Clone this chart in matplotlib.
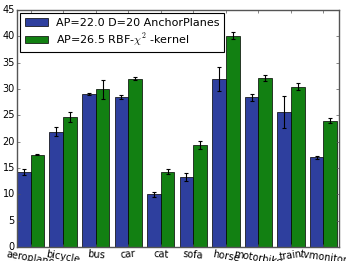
import matplotlib
matplotlib.use("Agg")
import matplotlib.pyplot as plt
import numpy as np

plt.style.use('classic')

categories = ['aeroplane', 'bicycle', 'bus', 'car', 'cat', 'sofa', 'horse',
              'motorbike', 'train', 'tvmonitor']
anchor_vals = [14.2, 21.9, 29.0, 28.5, 10.0, 13.3, 31.9, 28.4, 25.6, 17.0]
anchor_err = [0.6, 0.8, 0.2, 0.4, 0.5, 0.8, 2.3, 0.7, 3.0, 0.3]
rbf_vals = [17.5, 24.7, 29.9, 31.9, 14.3, 19.4, 40.1, 32.1, 30.4, 24.0]
rbf_err = [0.1, 0.9, 1.8, 0.3, 0.5, 0.8, 0.7, 0.6, 0.7, 0.4]
label_rot = [-10, -10, -5, 5, -3, -5, -10, -10, 8, -8]

fig = plt.figure(figsize=(3.46, 2.61), dpi=100)
fig.patch.set_facecolor('white')
ax = fig.add_axes([0.049, 0.054, 0.931, 0.908])

x = np.arange(len(categories))
w = 0.42
ax.bar(x, anchor_vals, w, align='edge', color='#2e3f9e', edgecolor='black',
       linewidth=0.5, label='AP=22.0 D=20 AnchorPlanes')
ax.bar(x + w, rbf_vals, w, align='edge', color='#128012', edgecolor='black',
       linewidth=0.5, label=r'AP=26.5 RBF-$\chi^2$ -kernel')
ax.errorbar(x + w / 2, anchor_vals, yerr=anchor_err, fmt='none', ecolor='black',
            elinewidth=0.8, capsize=1.5, capthick=0.8)
ax.errorbar(x + 1.5 * w, rbf_vals, yerr=rbf_err, fmt='none', ecolor='black',
            elinewidth=0.8, capsize=1.5, capthick=0.8)

ax.set_xlim(0, 9.9)
ax.set_ylim(0, 45)
ax.set_yticks(np.arange(0, 46, 5))
ax.set_xticks(x + w)
ax.set_xticklabels(categories)
for lab, r in zip(ax.get_xticklabels(), label_rot):
    lab.set_rotation(r)
ax.tick_params(labelsize=7, length=2.5, pad=1.5, color='#555555')
for s in ax.spines.values():
    s.set_color('#555555')
leg = ax.legend(loc='upper left', fontsize=8, handlelength=2.1,
                handletextpad=0.7, borderpad=0.4, labelspacing=0.3,
                borderaxespad=0.3)
leg.get_frame().set_linewidth(0.8)

fig.savefig('out.png', dpi=100, facecolor='white')
